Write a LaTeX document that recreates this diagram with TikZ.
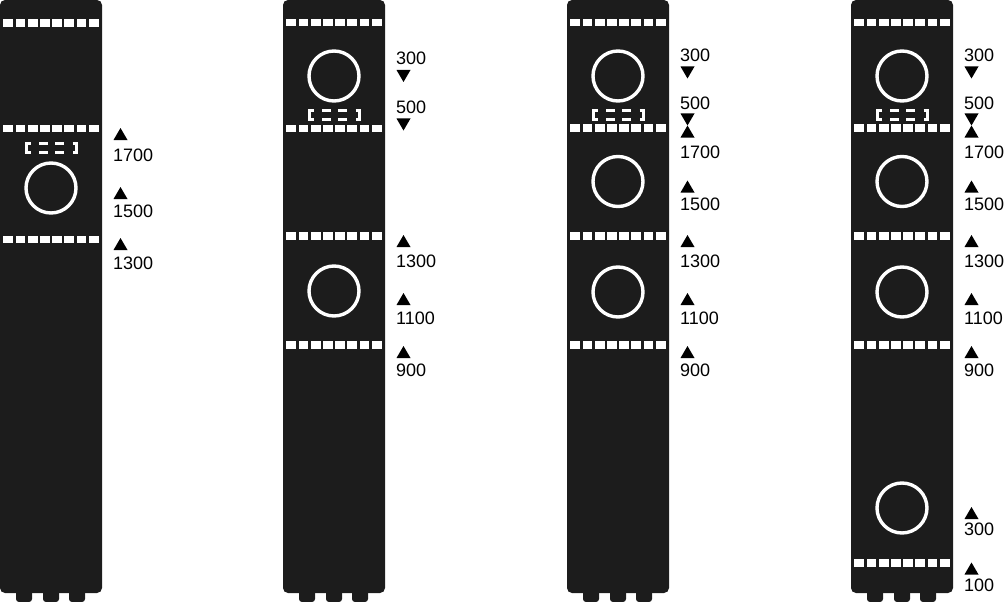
\documentclass[tikz,border=0pt]{standalone}
\usepackage{fontspec}
\setmainfont{Liberation Sans}
\usetikzlibrary{calc,positioning}
\definecolor{towerGray}{HTML}{1C1C1C}

\begin{document}
\begin{tikzpicture}[x=1pt,y=-1pt,
  towerbody/.style={fill=towerGray,rounded corners=5pt},
  towerfoot/.style={fill=towerGray,rounded corners=3pt},
  ring/.style={draw=white,line width=3.4pt},
  bracketline/.style={draw=white,line width=3pt},
  tagtext/.style={anchor=west,inner sep=0pt,font=\fontsize{18}{20}\selectfont}]
\useasboundingbox (0,0) rectangle (1005,602);

%塔身 外形 (四座相同)
\foreach \sx in {0,283,567,851}
{
    \begin{scope}[shift={(\sx,0)}]
    \fill[towerbody] (0,0) rectangle (102,593);
    \foreach \fx in {16,43,69}
    {
        \fill[towerfoot] (\fx,585) rectangle ++(16,17);
    };
    \end{scope}
};

%第一座
\begin{scope}[shift={(0,0)}]
\foreach \ry in {23,128.5,239.5}
{
    \foreach \k in {0,...,7}
        \fill[white] (3.3+12.2*\k,\ry-3.7) rectangle ++(9.9,7.4);
};
\foreach \by in {148}
{
    \draw[bracketline] (30.5,\by-4.6) -- (26.4,\by-4.6) -- (26.4,\by+4.6) -- (30.5,\by+4.6);
    \draw[bracketline] (72.5,\by-4.6) -- (76.6,\by-4.6) -- (76.6,\by+4.6) -- (72.5,\by+4.6);
    \foreach \dx in {39,55}
    {
        \draw[bracketline] (\dx,\by-4.6) -- ++(9,0);
        \draw[bracketline] (\dx,\by+4.6) -- ++(9,0);
    };
};
\foreach \cy in {188}
    \draw[ring] (51,\cy) circle (25);
\foreach \ty/\tv/\ay/\d [count=\n] in {155/1700/134/-1,211/1500/193/-1,263/1300/244/-1}
{
    \fill (113.5,\ay-6*\d) -- ++(14,0) -- ++(-7,12*\d) -- cycle;
    \node[tagtext] (nA\n) at (113,\ty) {\tv};
};
\end{scope}

%第二座
\begin{scope}[shift={(283,0)}]
\foreach \ry in {22.5,128.5,236,345}
{
    \foreach \k in {0,...,7}
        \fill[white] (3.3+12.2*\k,\ry-3.7) rectangle ++(9.9,7.4);
};
\foreach \by in {115}
{
    \draw[bracketline] (30.5,\by-4.6) -- (26.4,\by-4.6) -- (26.4,\by+4.6) -- (30.5,\by+4.6);
    \draw[bracketline] (72.5,\by-4.6) -- (76.6,\by-4.6) -- (76.6,\by+4.6) -- (72.5,\by+4.6);
    \foreach \dx in {39,55}
    {
        \draw[bracketline] (\dx,\by-4.6) -- ++(9,0);
        \draw[bracketline] (\dx,\by+4.6) -- ++(9,0);
    };
};
\foreach \cy in {76,291}
    \draw[ring] (51,\cy) circle (25);
\foreach \ty/\tv/\ay/\d [count=\n] in {58.3/300/76/1,107/500/124.5/1,261/1300/241/-1,318/1100/299/-1,370/900/352/-1}
{
    \fill (113.5,\ay-6*\d) -- ++(14,0) -- ++(-7,12*\d) -- cycle;
    \node[tagtext] (nB\n) at (113,\ty) {\tv};
};
\end{scope}

%第三座
\begin{scope}[shift={(567,0)}]
\foreach \ry in {22.5,128,236,345}
{
    \foreach \k in {0,...,7}
        \fill[white] (3.3+12.2*\k,\ry-3.7) rectangle ++(9.9,7.4);
};
\foreach \by in {115}
{
    \draw[bracketline] (30.5,\by-4.6) -- (26.4,\by-4.6) -- (26.4,\by+4.6) -- (30.5,\by+4.6);
    \draw[bracketline] (72.5,\by-4.6) -- (76.6,\by-4.6) -- (76.6,\by+4.6) -- (72.5,\by+4.6);
    \foreach \dx in {39,55}
    {
        \draw[bracketline] (\dx,\by-4.6) -- ++(9,0);
        \draw[bracketline] (\dx,\by+4.6) -- ++(9,0);
    };
};
\foreach \cy in {76,181.5,292}
    \draw[ring] (51,\cy) circle (25);
\foreach \ty/\tv/\ay/\d [count=\n] in {55/300/72.5/1,103/500/119.5/1,152/1700/131.5/-1,204.5/1500/186.5/-1,261/1300/241/-1,318/1100/299/-1,370/900/352/-1}
{
    \fill (113.5,\ay-6*\d) -- ++(14,0) -- ++(-7,12*\d) -- cycle;
    \node[tagtext] (nC\n) at (113,\ty) {\tv};
};
\end{scope}

%第四座
\begin{scope}[shift={(851,0)}]
\foreach \ry in {22.5,128,236,345,563}
{
    \foreach \k in {0,...,7}
        \fill[white] (3.3+12.2*\k,\ry-3.7) rectangle ++(9.9,7.4);
};
\foreach \by in {115}
{
    \draw[bracketline] (30.5,\by-4.6) -- (26.4,\by-4.6) -- (26.4,\by+4.6) -- (30.5,\by+4.6);
    \draw[bracketline] (72.5,\by-4.6) -- (76.6,\by-4.6) -- (76.6,\by+4.6) -- (72.5,\by+4.6);
    \foreach \dx in {39,55}
    {
        \draw[bracketline] (\dx,\by-4.6) -- ++(9,0);
        \draw[bracketline] (\dx,\by+4.6) -- ++(9,0);
    };
};
\foreach \cy in {76,181.5,292,508}
    \draw[ring] (51,\cy) circle (25);
\foreach \ty/\tv/\ay/\d [count=\n] in {55/300/72.5/1,103/500/119.5/1,152/1700/131.5/-1,204.5/1500/186.5/-1,261/1300/241/-1,318/1100/299/-1,370/900/352/-1,529/300/513/-1,585/100/568.5/-1}
{
    \fill (113.5,\ay-6*\d) -- ++(14,0) -- ++(-7,12*\d) -- cycle;
    \node[tagtext] (nD\n) at (113,\ty) {\tv};
};
\end{scope}
\end{tikzpicture}
\end{document}
